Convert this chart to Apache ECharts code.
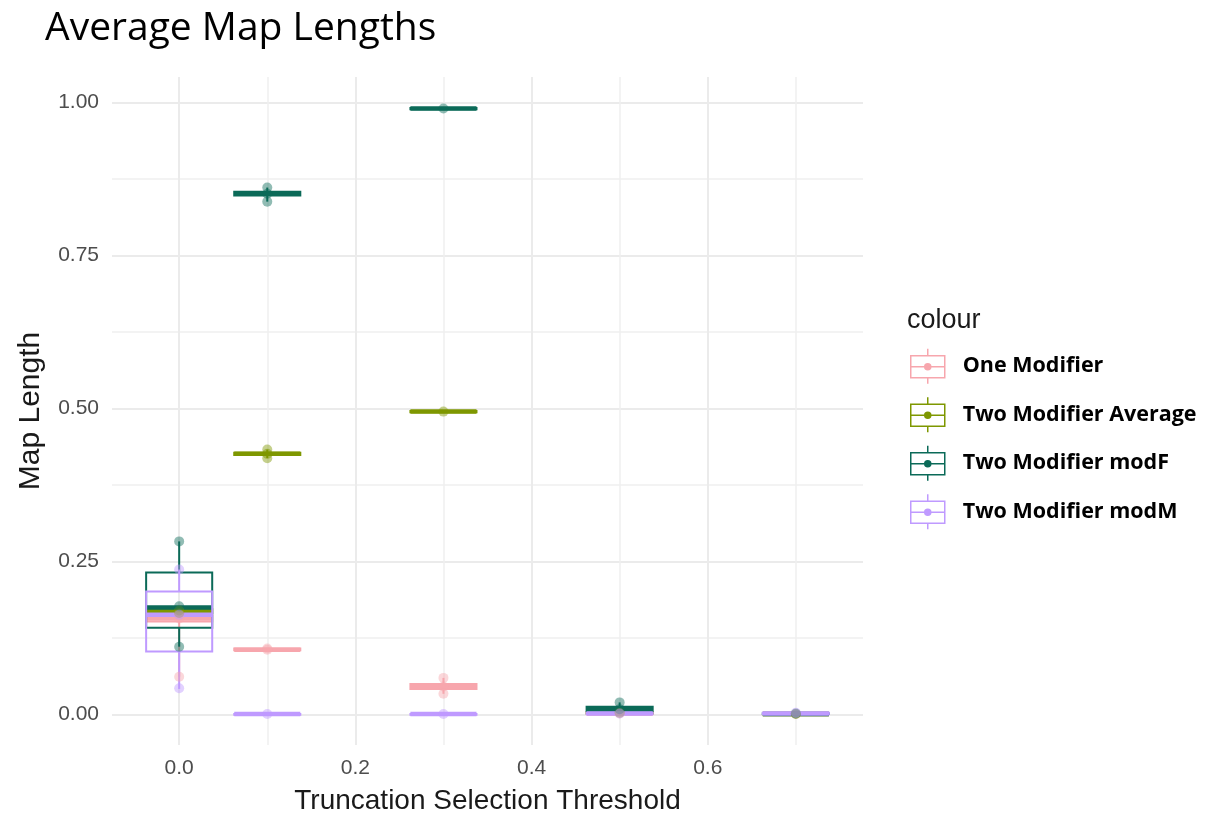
<!DOCTYPE html>
<html>
<head>
<meta charset="utf-8">
<script src="https://cdn.jsdelivr.net/npm/echarts@6/dist/echarts.min.js"></script>
<style>
html,body{margin:0;padding:0;background:#fff;}
#chart{width:1213px;height:816px;}
</style>
</head>
<body>
<div id="chart"></div>
<script>
// ---- data ----
const seriesNames = ['One Modifier', 'Two Modifier Average', 'Two Modifier modF', 'Two Modifier modM'];
const seriesColors = ['#F7A6AD', '#7E9700', '#0B6A58', '#BF9AFF'];
const thresholds = [0.0, 0.1, 0.3, 0.5, 0.7];
const xTickValues = [0.0, 0.2, 0.4, 0.6];
const yTickValues = [0.00, 0.25, 0.50, 0.75, 1.00];

// box stats per threshold: [min, q1, median, q3, max]
const oneModifierBox = [
  [0.062, 0.152, 0.157, 0.162, 0.165],
  [0.104, 0.105, 0.106, 0.108, 0.109],
  [0.034, 0.042, 0.046, 0.050, 0.060],
  [0.001, 0.002, 0.002, 0.003, 0.004],
  [0.000, 0.001, 0.001, 0.001, 0.002]
];
const averageBox = [
  [0.160, 0.166, 0.170, 0.172, 0.176],
  [0.419, 0.424, 0.426, 0.428, 0.433],
  [0.493, 0.494, 0.495, 0.496, 0.497],
  [0.001, 0.002, 0.003, 0.004, 0.005],
  [0.000, 0.001, 0.001, 0.001, 0.002]
];
const modFBox = [
  [0.111, 0.142, 0.175, 0.232, 0.283],
  [0.838, 0.848, 0.851, 0.854, 0.861],
  [0.988, 0.989, 0.990, 0.991, 0.992],
  [0.004, 0.006, 0.009, 0.013, 0.020],
  [0.000, 0.001, 0.001, 0.002, 0.003]
];
const modMBox = [
  [0.042, 0.103, 0.163, 0.201, 0.237],
  [0.000, 0.000, 0.001, 0.001, 0.002],
  [0.000, 0.000, 0.001, 0.001, 0.002],
  [0.000, 0.001, 0.002, 0.003, 0.004],
  [0.000, 0.001, 0.002, 0.003, 0.004]
];

// individual observations [threshold, map length]
const oneModifierPoints = [[0, 0.062], [0, 0.157], [0, 0.165], [0.1, 0.106], [0.1, 0.108], [0.3, 0.060], [0.3, 0.046], [0.3, 0.034], [0.5, 0.002], [0.7, 0.001]];
const averagePoints = [[0, 0.170], [0, 0.166], [0.1, 0.433], [0.1, 0.419], [0.1, 0.426], [0.3, 0.495], [0.5, 0.003], [0.7, 0.001]];
const modFPoints = [[0, 0.283], [0, 0.177], [0, 0.111], [0.1, 0.861], [0.1, 0.838], [0.1, 0.851], [0.3, 0.990], [0.5, 0.020], [0.5, 0.009], [0.7, 0.002]];
const modMPoints = [[0, 0.237], [0, 0.163], [0, 0.043], [0.1, 0.001], [0.3, 0.001], [0.5, 0.002], [0.7, 0.003]];

const boxStats = [oneModifierBox, averageBox, modFBox, modMBox];
const pointSets = [oneModifierPoints, averagePoints, modFPoints, modMPoints];

// ---- chart ----
const BOX_WIDTH = 0.075;
const chart = echarts.init(document.getElementById('chart'), null, {renderer: 'canvas'});

function makeRenderItem(color) {
  return function (params, api) {
    const x = api.value(0);
    const pMin = api.coord([x, api.value(1)]);
    const pQ1 = api.coord([x, api.value(2)]);
    const pMed = api.coord([x, api.value(3)]);
    const pQ3 = api.coord([x, api.value(4)]);
    const pMax = api.coord([x, api.value(5)]);
    const w = api.size([BOX_WIDTH, 0])[0];
    const cx = pMed[0];
    const lineStyle = {stroke: color, lineWidth: 2, fill: null};
    return {
      type: 'group',
      children: [
        {type: 'line', shape: {x1: cx, y1: pMax[1], x2: cx, y2: pQ3[1]}, style: lineStyle},
        {type: 'line', shape: {x1: cx, y1: pQ1[1], x2: cx, y2: pMin[1]}, style: lineStyle},
        {type: 'rect', shape: {x: cx - w / 2, y: pQ3[1], width: w, height: pQ1[1] - pQ3[1]},
          style: {stroke: color, lineWidth: 2, fill: 'rgba(0,0,0,0)'}},
        {type: 'line', shape: {x1: cx - w / 2, y1: pMed[1], x2: cx + w / 2, y2: pMed[1]},
          style: {stroke: color, lineWidth: 4.5}}
      ]
    };
  };
}

const series = [];
seriesNames.forEach(function (name, i) {
  series.push({
    name: name,
    type: 'custom',
    renderItem: makeRenderItem(seriesColors[i]),
    encode: {x: 0, y: [1, 2, 3, 4, 5]},
    data: thresholds.map(function (t, j) { return [t].concat(boxStats[i][j]); }),
    itemStyle: {color: seriesColors[i]},
    z: 2,
    silent: true
  });
});
seriesNames.forEach(function (name, i) {
  series.push({
    name: name,
    type: 'scatter',
    data: pointSets[i],
    symbolSize: 10,
    itemStyle: {color: seriesColors[i], opacity: 0.45},
    z: 3,
    silent: true
  });
});

const legendIcon = 'path://M18,0 L18,7 M1,7 L35,7 L35,29 L1,29 Z M1,18 L35,18 M18,29 L18,35 M21,18 A3,3 0 1 1 15,18 A3,3 0 1 1 21,18 Z M19.5,18 A1.5,1.5 0 1 1 16.5,18 A1.5,1.5 0 1 1 19.5,18 Z';

const option = {
  backgroundColor: '#ffffff',
  animation: false,
  title: {
    text: 'Average Map Lengths',
    left: 40, top: 4,
    textStyle: {fontSize: 39, fontWeight: 'normal', color: '#000', fontFamily: 'Open Sans'}
  },
  legend: {
    orient: 'vertical',
    left: 910, top: 348,
    padding: 0,
    itemWidth: 34, itemHeight: 35, itemGap: 12,
    selectedMode: false,
    textStyle: {fontSize: 21.5, fontWeight: 'bold', color: '#000', fontFamily: 'Open Sans', padding: [0, 0, 0, 13]},
    data: seriesNames.map(function (n, i) {
      return {name: n, icon: legendIcon,
        itemStyle: {color: 'rgba(0,0,0,0)', borderColor: seriesColors[i], borderWidth: 1.5, opacity: 1}};
    })
  },
  graphic: [{
    type: 'text', left: 907, top: 307,
    style: {text: 'colour', fontSize: 27, fill: '#1a1a1a', fontFamily: 'Liberation Sans'}
  }],
  grid: {left: 112, right: 350, top: 77, bottom: 71, containLabel: false, outerBoundsMode: 'none'},
  xAxis: {
    type: 'value',
    min: -0.07625, max: 0.77625,
    minInterval: 0.2, maxInterval: 0.2,
    axisLine: {show: false, onZero: false},
    axisTick: {show: false, customValues: xTickValues},
    axisLabel: {customValues: xTickValues, formatter: function (v) { return v.toFixed(1); },
      fontSize: 21, color: '#4d4d4d', margin: 13, fontFamily: 'Liberation Sans'},
    splitLine: {show: true, lineStyle: {color: '#ebebeb', width: 2}},
    minorTick: {show: false, splitNumber: 2},
    minorSplitLine: {show: true, lineStyle: {color: '#f0f0f0', width: 1.5}},
    name: 'Truncation Selection Threshold',
    nameLocation: 'middle', nameGap: 42,
    nameTextStyle: {fontSize: 28, color: '#1a1a1a', fontFamily: 'Liberation Sans'}
  },
  yAxis: {
    type: 'value',
    min: -0.0496, max: 1.0416,
    minInterval: 0.25, maxInterval: 0.25,
    axisLine: {show: false, onZero: false},
    axisTick: {show: false, customValues: yTickValues},
    axisLabel: {customValues: yTickValues, formatter: function (v) { return v.toFixed(2); },
      fontSize: 21, color: '#4d4d4d', margin: 13, fontFamily: 'Liberation Sans'},
    splitLine: {show: true, lineStyle: {color: '#ebebeb', width: 2}},
    minorTick: {show: false, splitNumber: 2},
    minorSplitLine: {show: true, lineStyle: {color: '#f0f0f0', width: 1.5}},
    name: 'Map Length',
    nameLocation: 'middle', nameGap: 66,
    nameTextStyle: {fontSize: 30, color: '#1a1a1a', fontFamily: 'Liberation Sans'}
  },
  series: series
};
chart.setOption(option);
</script>
</body>
</html>
